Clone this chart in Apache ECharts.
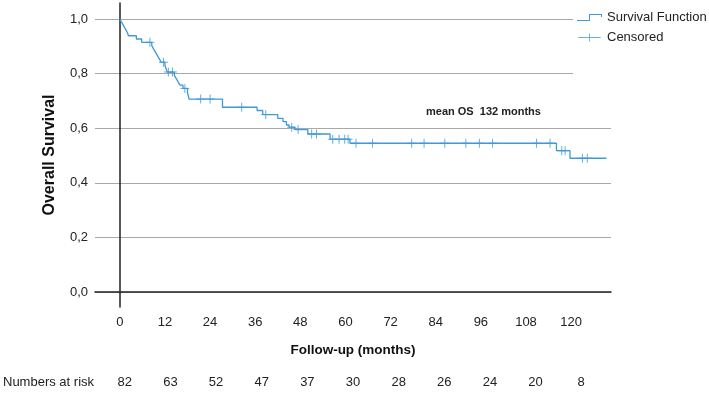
<!DOCTYPE html>
<html>
<head>
<meta charset="utf-8">
<script src="https://cdn.jsdelivr.net/npm/echarts@6.0.0/dist/echarts.min.js"></script>
<style>
  html, body { margin: 0; padding: 0; background: #fff; }
  #chart { width: 709px; height: 396px; }
</style>
</head>
<body>
<div id="chart"></div>
<script>
// Kaplan-Meier steps (months, survival after the drop)
var eventTimes = [0, 0.5, 1.0, 1.5, 2.0, 2.3, 4.4, 5.8, 8.5, 9.0, 9.5, 10.0, 10.5, 11.0, 12.0, 12.3, 12.6,
    14.5, 15.0, 15.5, 16.0, 16.8, 18.0, 18.2, 18.4, 27.3, 36.5, 38.0, 42.0, 43.4, 44.3, 45.0, 46.5,
    50.0, 55.9, 61.2, 116.1, 119.7];
var eventSurvival = [1.0, 0.988, 0.976, 0.963, 0.951, 0.939, 0.927, 0.915, 0.903, 0.890, 0.878, 0.866,
    0.854, 0.842, 0.830, 0.818, 0.806, 0.794, 0.782, 0.770, 0.758, 0.746, 0.730, 0.719, 0.707, 0.677,
    0.665, 0.650, 0.636, 0.624, 0.612, 0.604, 0.595, 0.579, 0.560, 0.545, 0.518, 0.490];
var censorTimes = [8.0, 11.6, 12.9, 14.0, 17.3, 21.5, 24.0, 32.4, 38.8, 45.7, 47.4, 51.0, 52.3,
    56.6, 58.3, 59.8, 60.7, 62.8, 67.2, 77.6, 80.9, 86.4, 92.0, 95.6, 99.1, 110.8, 114.4,
    117.5, 118.4, 123.0, 124.3];
var lastFollowUp = 129.4;

var monthTicks = [0, 12, 24, 36, 48, 60, 72, 84, 96, 108, 120];
var survivalTicks = [0, 0.2, 0.4, 0.6, 0.8, 1.0];
var numbersAtRisk = ['82', '63', '52', '47', '37', '30', '28', '26', '24', '20', '8'];

var blue = '#3f9ad6';
var font = "'Liberation Sans', Arial, sans-serif";

// build curve points
var curve = [];
for (var i = 0; i < eventTimes.length; i++) {
    curve.push([eventTimes[i], eventSurvival[i]]);
}
curve.push([lastFollowUp, eventSurvival[eventSurvival.length - 1]]);

function stepValue(t) {
    var v = curve[0][1];
    for (var k = 0; k < curve.length; k++) {
        if (curve[k][0] <= t) v = curve[k][1];
    }
    return v;
}
var censored = censorTimes.map(function (t) { return [t, stepValue(t)]; });

var chart = echarts.init(document.getElementById('chart'));
var option = {
    animation: false,
    backgroundColor: '#fff',
    legend: {
        orient: 'vertical',
        left: 572,
        top: 6,
        z: 10,
        itemWidth: 25,
        itemHeight: 8,
        itemGap: 7,
        textStyle: { fontSize: 13, color: '#222', fontFamily: font },
        data: [
            { name: 'Survival Function', icon: 'path://M0,6H12V0H25V3H24V1H13V7H0Z' },
            { name: 'Censored', icon: 'path://M0,4H12V0H13V4H25V5H13V9H12V5H0Z' }
        ]
    },
    graphic: [
        { type: 'rect', z: 5, shape: { x: 573, y: 0, width: 45, height: 100 }, style: { fill: '#fff' } },
        { type: 'text', left: 426, top: 106, style: { text: 'mean OS  132 months', fontSize: 11, fontWeight: 'bold', fill: '#222', fontFamily: font } },
        { type: 'text', left: 3, top: 376, style: { text: 'Numbers at risk', fontSize: 13, fill: '#222', fontFamily: font } }
    ],
    grid: [
        { left: 95, right: 98, top: 3, bottom: 89 },
        { left: 102, width: 502, top: 360, height: 8 }
    ],
    xAxis: [
        {
            type: 'value', gridIndex: 0, min: -6.6, max: 130.6,
            name: 'Follow-up (months)', nameLocation: 'middle', nameGap: 36,
            nameTextStyle: { fontSize: 13.5, fontWeight: 'bold', color: '#111', fontFamily: font },
            axisLine: { lineStyle: { color: '#222', width: 1.5 } },
            axisTick: { show: false, customValues: monthTicks },
            axisLabel: { customValues: monthTicks, margin: 9, fontSize: 13, color: '#222', fontFamily: font },
            splitLine: { show: false }
        },
        {
            type: 'category', gridIndex: 1, data: numbersAtRisk,
            axisLine: { show: false }, axisTick: { show: false },
            axisLabel: { margin: 8, fontSize: 13, color: '#222', fontFamily: font }
        }
    ],
    yAxis: [
        {
            type: 'value', gridIndex: 0, min: -0.055, max: 1.059,
            name: 'Overall Survival', nameLocation: 'middle', nameGap: 37, nameRotate: 90,
            nameTextStyle: { fontSize: 16, fontWeight: 'bold', color: '#111', fontFamily: font },
            axisLine: { show: true, lineStyle: { color: '#222', width: 1.5 } },
            axisTick: { show: false, customValues: survivalTicks },
            axisLabel: {
                customValues: survivalTicks, margin: 7, fontSize: 13, color: '#222', fontFamily: font,
                formatter: function (v) { return v.toFixed(1).replace('.', ','); }
            },
            splitLine: { show: true, lineStyle: { color: '#a8a8a8', width: 1 } }
        },
        { type: 'value', gridIndex: 1, show: false }
    ],
    series: [
        {
            name: 'Survival Function', type: 'line', step: 'end', data: curve,
            xAxisIndex: 0, yAxisIndex: 0, showSymbol: false, symbol: 'none',
            lineStyle: { color: blue, width: 1.3 }, itemStyle: { color: blue }, z: 3
        },
        {
            name: 'Censored', type: 'scatter', data: censored,
            xAxisIndex: 0, yAxisIndex: 0,
            symbol: 'path://M4,0H5V4H9V5H5V9H4V5H0V4H4Z', symbolSize: 9,
            itemStyle: { color: blue }, z: 4
        }
    ]
};
chart.setOption(option);
</script>
</body>
</html>
